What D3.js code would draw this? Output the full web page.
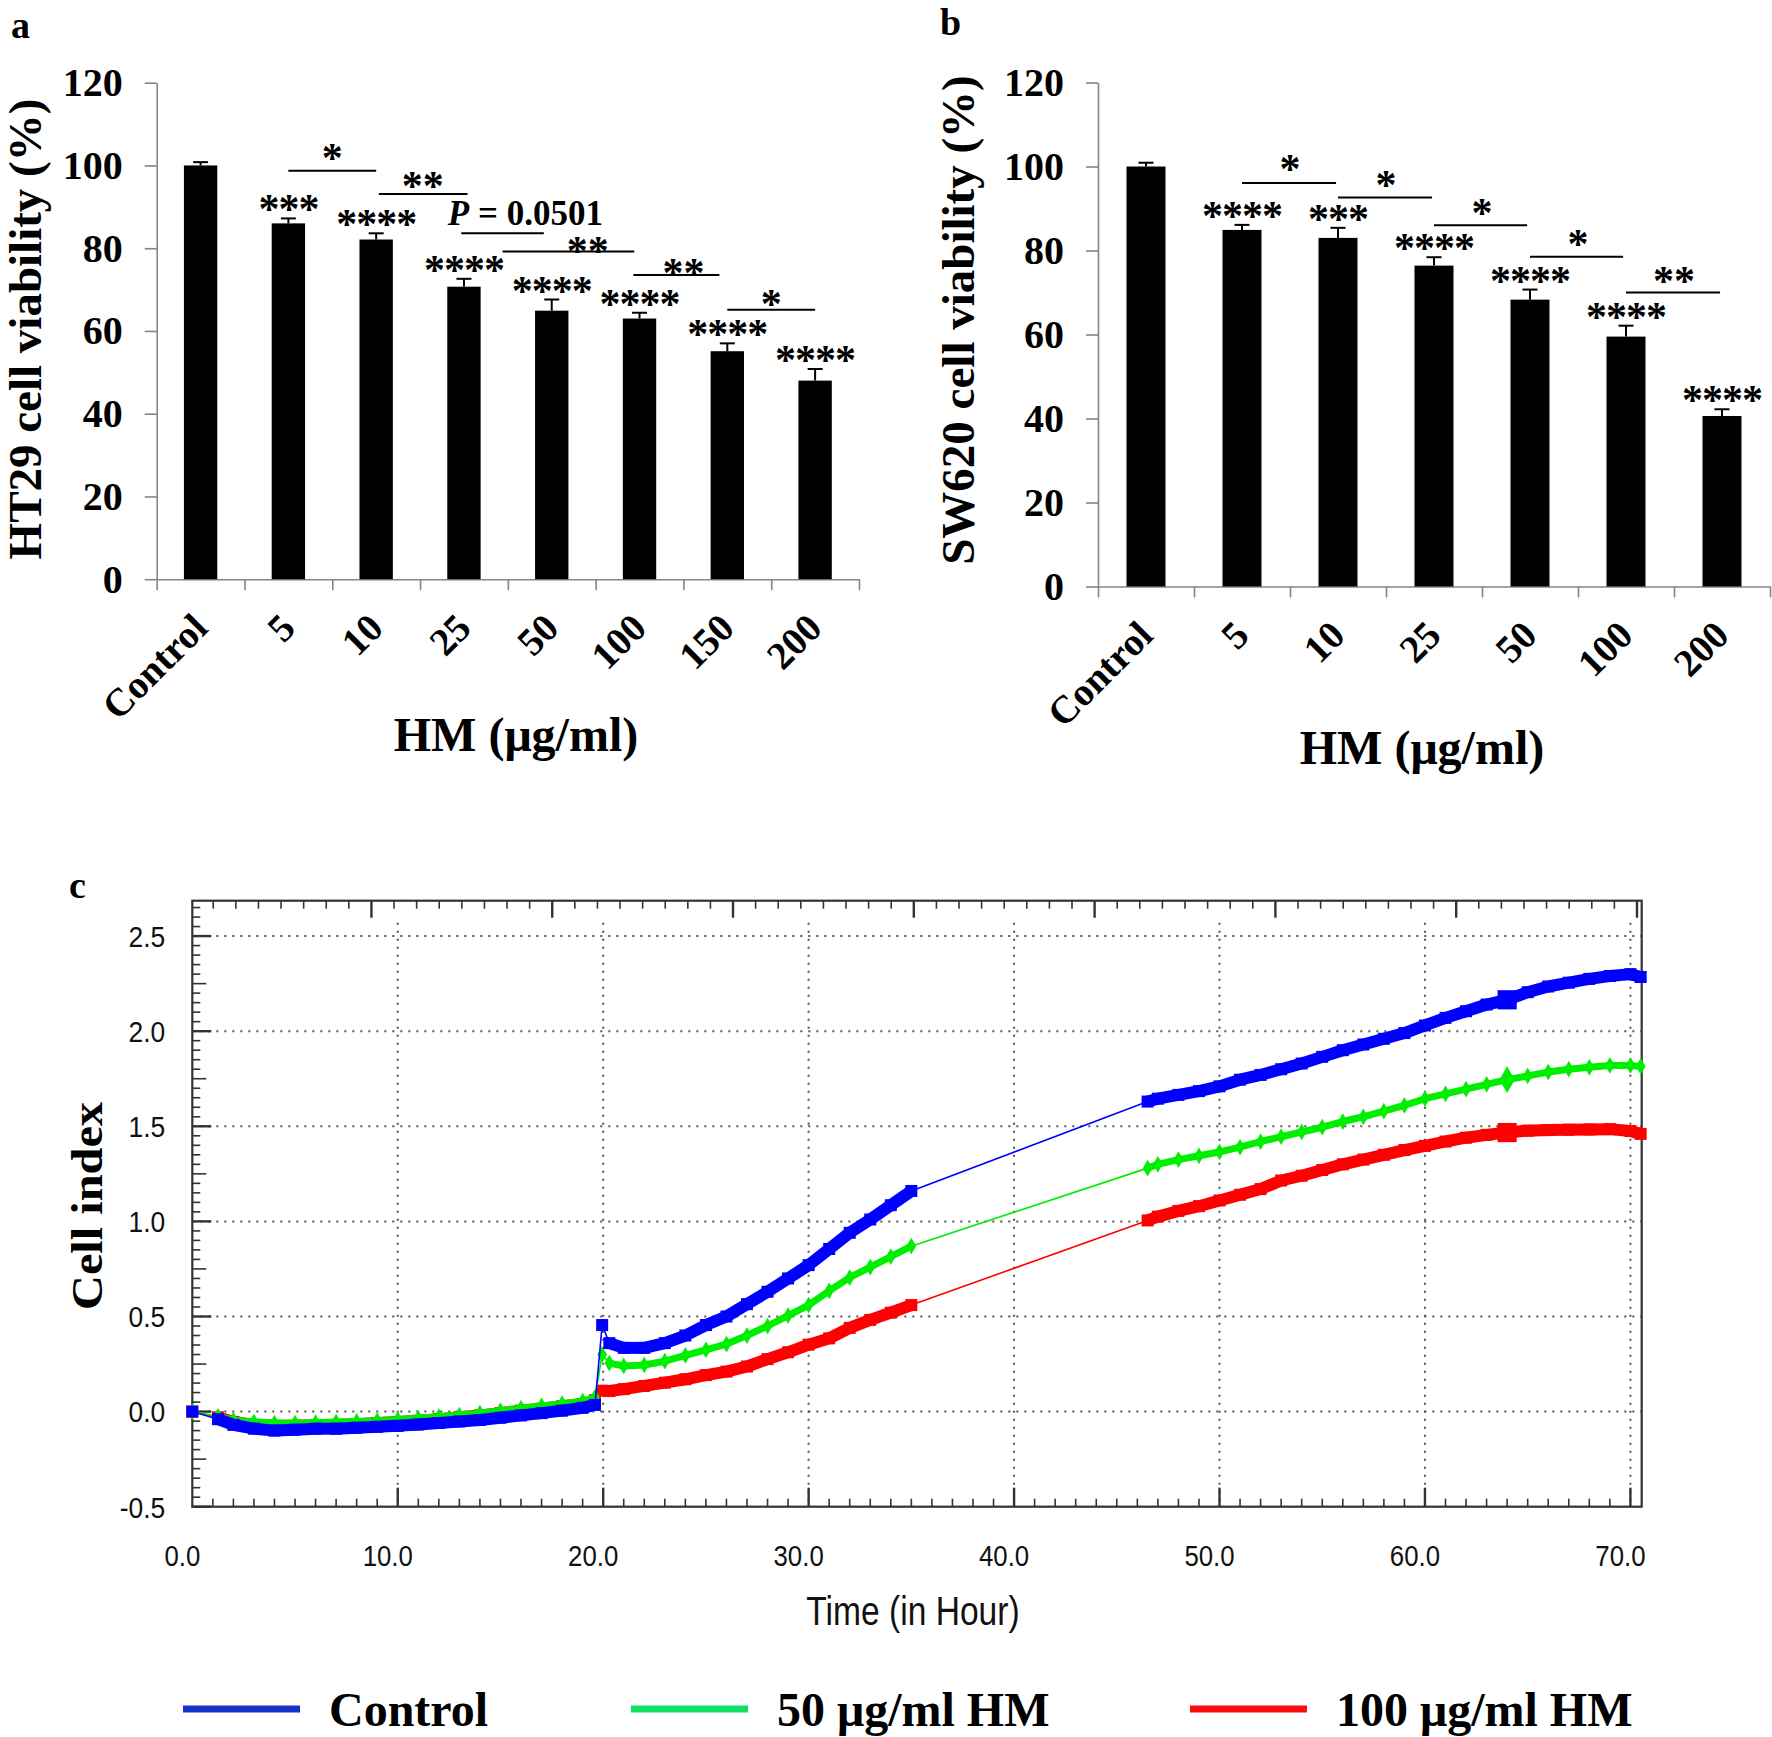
<!DOCTYPE html>
<html>
<head>
<meta charset="utf-8">
<script src="https://cdn.jsdelivr.net/npm/d3@7"></script>
<style>
  body { margin: 0; background: #fff; }
  svg { display: block; }
</style>
</head>
<body>
<svg id="fig" width="1772" height="1737"></svg>
<script>
// ---- panel a : HT29 viability
const dosesA = ["Control", "5", "10", "25", "50", "100", "150", "200"];
const viabA = [100, 86.0, 82.1, 70.7, 64.9, 63.0, 55.1, 48.0];
const errA = [0.8, 1.2, 1.5, 1.9, 2.7, 1.4, 1.9, 2.8];
const starsA = ["", "***", "****", "****", "****", "****", "****", "****"];
// brackets: from / to bar index, line level, label, label centre (index, level)
const bracketsA = [
  {from: 1, to: 2, y: 98.7, label: "*", lx: 1.5, ly: 102.9},
  {from: 2.03, to: 3.04, y: 93.1, label: "**", lx: 2.53, ly: 96.3},
  {from: 2.97, to: 3.91, y: 83.6, label: "P = 0.0501", lx: 3.70, ly: 88.6},
  {from: 3.44, to: 4.94, y: 79.2, label: "**", lx: 4.41, ly: 80.6},
  {from: 4.93, to: 5.91, y: 73.5, label: "**", lx: 5.5, ly: 75.3},
  {from: 6.0, to: 7.0, y: 65.1, label: "*", lx: 6.5, ly: 67.8}
];

// ---- panel b : SW620 viability
const dosesB = ["Control", "5", "10", "25", "50", "100", "200"];
const viabB = [100, 84.9, 83.0, 76.4, 68.3, 59.5, 40.6];
const errB = [0.9, 1.2, 2.4, 2.0, 2.4, 2.6, 1.6];
const starsB = ["", "****", "***", "****", "****", "****", "****"];
const bracketsB = [
  {from: 1, to: 1.98, y: 96.1, label: "*", lx: 1.5, ly: 100.5},
  {from: 2, to: 2.98, y: 92.6, label: "*", lx: 2.5, ly: 96.7},
  {from: 3, to: 3.97, y: 86.0, label: "*", lx: 3.5, ly: 90.1},
  {from: 4, to: 4.97, y: 78.5, label: "*", lx: 4.5, ly: 82.8},
  {from: 5, to: 5.98, y: 70.0, label: "**", lx: 5.5, ly: 73.9}
];
const viabTicks = [0, 20, 40, 60, 80, 100, 120];

// ---- panel c : real-time cell index
const hours = [0, 1.25, 2, 3, 4, 5, 6, 7, 8, 9, 10, 11, 12, 13, 14, 15, 16, 17, 18, 19,
  19.6, 19.95, 20.3, 21, 22, 23, 24, 25, 26, 27, 28, 29, 30, 31, 32, 33, 34, 35,
  46.5, 47, 48, 49, 50, 51, 52, 53, 54, 55, 56, 57, 58, 59, 60, 61, 62, 63, 64,
  65, 66, 67, 68, 69, 70, 70.5];
const ciControl = [0.00, -0.04, -0.07, -0.09, -0.10, -0.095, -0.09, -0.09, -0.085, -0.08,
  -0.075, -0.068, -0.06, -0.052, -0.044, -0.032, -0.02, -0.008, 0.005, 0.02,
  0.035, 0.455, 0.36, 0.335, 0.335, 0.36, 0.40, 0.455, 0.50, 0.565, 0.63, 0.70, 0.77,
  0.855, 0.94, 1.01, 1.085, 1.16,
  1.63, 1.645, 1.665, 1.685, 1.71, 1.745, 1.77, 1.80, 1.83, 1.865, 1.90, 1.93, 1.96,
  1.99, 2.03, 2.07, 2.105, 2.14, 2.165, 2.205, 2.235, 2.255, 2.275, 2.29, 2.30, 2.285];
const ci50 = [0.00, -0.025, -0.045, -0.055, -0.06, -0.06, -0.058, -0.055, -0.052, -0.048,
  -0.042, -0.035, -0.027, -0.018, -0.008, 0.005, 0.018, 0.03, 0.042, 0.055,
  0.075, 0.30, 0.255, 0.24, 0.245, 0.265, 0.295, 0.325, 0.355, 0.40, 0.45, 0.505, 0.56,
  0.635, 0.705, 0.76, 0.815, 0.87,
  1.28, 1.30, 1.325, 1.345, 1.365, 1.39, 1.42, 1.445, 1.47, 1.495, 1.525, 1.55, 1.58,
  1.61, 1.645, 1.67, 1.695, 1.72, 1.745, 1.765, 1.785, 1.80, 1.81, 1.82, 1.82, 1.815];
const ci100 = [0.00, -0.03, -0.055, -0.07, -0.075, -0.075, -0.072, -0.07, -0.066, -0.06,
  -0.055, -0.048, -0.04, -0.03, -0.02, -0.008, 0.005, 0.015, 0.028, 0.04,
  0.06, 0.11, 0.108, 0.118, 0.135, 0.152, 0.17, 0.192, 0.21, 0.237, 0.276, 0.312, 0.352,
  0.385, 0.44, 0.482, 0.52, 0.56,
  1.005, 1.025, 1.055, 1.08, 1.11, 1.14, 1.17, 1.215, 1.24, 1.27, 1.30, 1.325, 1.35,
  1.375, 1.397, 1.42, 1.44, 1.455, 1.467, 1.477, 1.48, 1.482, 1.483, 1.485, 1.475, 1.46];
const seriesNames = ["Control", "50 \u03bcg/ml HM", "100 \u03bcg/ml HM"];
const markTime = 64;
const ciTicks = [-0.5, 0, 0.5, 1, 1.5, 2, 2.5];
const hourTicks = [0, 10, 20, 30, 40, 50, 60, 70];

const serif = "'Liberation Serif','Times New Roman',serif";
const sans = "'Liberation Sans',Arial,sans-serif";
const svg = d3.select("#fig");
const fmt1 = d => d.toFixed(1);

function barPanel(o) {
  const g = svg.append("g");
  const n = o.cats.length;
  const x = d3.scaleBand().domain(o.cats).range(o.xr)
    .paddingInner(o.pad).paddingOuter(o.pad / 2);
  const xc = d3.scaleLinear().domain([0, n - 1])
    .range([x(o.cats[0]) + x.bandwidth() / 2, x(o.cats[n - 1]) + x.bandwidth() / 2]);
  const y = d3.scaleLinear().domain([0, 120]).range(o.yr);

  // y axis
  const ya = g.append("g")
    .attr("transform", `translate(${o.xr[0]},0)`)
    .call(d3.axisLeft(y).tickValues(viabTicks).tickSize(12).tickPadding(22).tickSizeOuter(0));
  ya.selectAll("path,line").attr("stroke", "#858585").attr("stroke-width", 1.6);
  ya.selectAll("text").attr("font-family", serif).attr("font-weight", "bold")
    .attr("font-size", 40).attr("fill", "#000");

  // x axis with ticks between the bars
  const xb = d3.scaleLinear().domain([0, n]).range(o.xr);
  const xa = g.append("g")
    .attr("transform", `translate(0,${y(0)})`)
    .call(d3.axisBottom(xb).tickValues(d3.range(n + 1)).tickSize(11).tickSizeOuter(0).tickFormat(""));
  xa.selectAll("path,line").attr("stroke", "#858585").attr("stroke-width", 1.6);

  g.selectAll(".xlab").data(o.cats).join("text")
    .attr("transform", d => `translate(${x(d) + x.bandwidth() / 2 + 9},${y(0) + 51}) rotate(-45)`)
    .attr("text-anchor", "end")
    .attr("font-family", serif).attr("font-weight", "bold").attr("font-size", 39)
    .text(d => d);

  // bars + error bars
  g.selectAll(".bar").data(o.vals).join("rect")
    .attr("x", (d, i) => x(o.cats[i]))
    .attr("width", x.bandwidth())
    .attr("y", d => y(d))
    .attr("height", d => y(0) - y(d))
    .attr("fill", "#000");
  const eb = g.selectAll(".err").data(o.vals).join("g");
  eb.append("line")
    .attr("x1", (d, i) => xc(i)).attr("x2", (d, i) => xc(i))
    .attr("y1", d => y(d)).attr("y2", (d, i) => y(d + o.err[i]))
    .attr("stroke", "#000").attr("stroke-width", 2);
  eb.append("line")
    .attr("x1", (d, i) => xc(i) - 7.5).attr("x2", (d, i) => xc(i) + 7.5)
    .attr("y1", (d, i) => y(d + o.err[i])).attr("y2", (d, i) => y(d + o.err[i]))
    .attr("stroke", "#000").attr("stroke-width", 2);

  // significance stars over the bars
  g.selectAll(".stars").data(o.stars).join("text")
    .attr("x", (d, i) => xc(i))
    .attr("y", (d, i) => y(o.vals[i] + o.err[i]) - 14 + 19)
    .attr("text-anchor", "middle")
    .attr("font-family", serif).attr("font-weight", "bold").attr("font-size", 42)
    .attr("letter-spacing", -1)
    .text(d => d);

  // comparison brackets
  g.selectAll(".brk").data(o.brackets).join("line")
    .attr("x1", d => xc(d.from)).attr("x2", d => xc(d.to))
    .attr("y1", d => y(d.y)).attr("y2", d => y(d.y))
    .attr("stroke", "#000").attr("stroke-width", 2);
  g.selectAll(".brklab").data(o.brackets).join("text")
    .attr("x", d => xc(d.lx))
    .attr("y", d => y(d.ly) + (d.label.startsWith("*") ? 19 : 12))
    .attr("text-anchor", "middle")
    .attr("font-family", serif).attr("font-weight", "bold")
    .attr("font-size", d => d.label.startsWith("*") ? 42 : 35)
    .each(function(d) {
      const t = d3.select(this);
      if (d.label.startsWith("P")) {
        t.append("tspan").attr("font-style", "italic").text("P");
        t.append("tspan").text(d.label.slice(1));
      } else {
        t.text(d.label);
      }
    });

  // titles
  g.append("text")
    .attr("transform", `translate(${o.ytitle[0]},${o.ytitle[1]}) rotate(-90)`)
    .attr("text-anchor", "middle")
    .attr("font-family", serif).attr("font-weight", "bold").attr("font-size", 47)
    .text(o.ylabel);
  g.append("text")
    .attr("x", o.xtitle[0]).attr("y", o.xtitle[1])
    .attr("text-anchor", "middle")
    .attr("font-family", serif).attr("font-weight", "bold").attr("font-size", 48)
    .text("HM (\u03bcg/ml)");
  g.append("text")
    .attr("x", o.letter[0]).attr("y", o.letter[1])
    .attr("font-family", serif).attr("font-weight", "bold").attr("font-size", 38)
    .text(o.letter[2]);
}

barPanel({
  cats: dosesA, vals: viabA, err: errA, stars: starsA, brackets: bracketsA,
  xr: [156.7, 859], yr: [579.2, 82.7], pad: 0.62,
  ylabel: "HT29 cell viability (%)", ytitle: [41, 329], xtitle: [516, 751],
  letter: [11, 38, "a"]
});
barPanel({
  cats: dosesB, vals: viabB, err: errB, stars: starsB, brackets: bracketsB,
  xr: [1098, 1770], yr: [586.5, 82.5], pad: 0.594,
  ylabel: "SW620 cell viability (%)", ytitle: [974, 320], xtitle: [1422, 764],
  letter: [940, 35, "b"]
});

// ---- panel c
const gc = svg.append("g");
const cLeft = 192.3, cRight = 1641.7, cTop = 900.7, cBottom = 1506.7;
const xC = d3.scaleLinear().domain([0, 70.55]).range([cLeft, cRight]);
const yC = d3.scaleLinear().domain([-0.5, 2.686]).range([cBottom, cTop]);

// dotted grid
gc.selectAll(".hg").data(ciTicks.filter(d => d > -0.5)).join("line")
  .attr("x1", cLeft).attr("x2", cRight)
  .attr("y1", d => yC(d)).attr("y2", d => yC(d))
  .attr("stroke", "#555").attr("stroke-width", 2).attr("stroke-dasharray", "2,6");
gc.selectAll(".vg").data(hourTicks.filter(d => d > 0)).join("line")
  .attr("x1", d => xC(d)).attr("x2", d => xC(d))
  .attr("y1", cTop + 22).attr("y2", cBottom)
  .attr("stroke", "#555").attr("stroke-width", 2).attr("stroke-dasharray", "2,6");

// inner ticks: left every 0.05, bottom every hour, top on its own spacing
const leftTicks = d3.range(0, 64).map(k => ({v: -0.5 + k * 0.05, len: k % 10 === 0 ? 19 : (k % 5 === 0 ? 14 : 8)}));
gc.selectAll(".lt").data(leftTicks).join("line")
  .attr("x1", cLeft).attr("x2", d => cLeft + d.len)
  .attr("y1", d => yC(d.v)).attr("y2", d => yC(d.v))
  .attr("stroke", "#333").attr("stroke-width", d => d.len > 14 ? 2.4 : 1.6);
const bottomTicks = d3.range(1, 71).map(h => ({h: h, len: h % 10 === 0 ? 19 : 8}));
gc.selectAll(".bt").data(bottomTicks).join("line")
  .attr("x1", d => xC(d.h)).attr("x2", d => xC(d.h))
  .attr("y1", cBottom).attr("y2", d => cBottom - d.len)
  .attr("stroke", "#333").attr("stroke-width", d => d.len > 8 ? 2.4 : 1.6);
const topTicks = d3.range(0, 64).map(k => ({h: 1.02 + k * 1.1, len: k % 8 === 7 ? 17 : 8}))
  .filter(d => d.h < 70.4);
gc.selectAll(".tt").data(topTicks).join("line")
  .attr("x1", d => xC(d.h)).attr("x2", d => xC(d.h))
  .attr("y1", cTop).attr("y2", d => cTop + d.len)
  .attr("stroke", "#333").attr("stroke-width", d => d.len > 8 ? 2.4 : 1.6);

gc.append("rect")
  .attr("x", cLeft).attr("y", cTop).attr("width", cRight - cLeft).attr("height", cBottom - cTop)
  .attr("fill", "none").attr("stroke", "#333").attr("stroke-width", 2.2);

// tick labels (narrow sans)
gc.selectAll(".yl").data(ciTicks).join("text")
  .attr("transform", d => `translate(${cLeft - 27},${yC(d)}) scale(0.88,1)`)
  .attr("dy", "0.36em").attr("text-anchor", "end")
  .attr("font-family", sans).attr("font-size", 30).attr("fill", "#111")
  .text(fmt1);
gc.selectAll(".xl").data(hourTicks).join("text")
  .attr("transform", d => `translate(${xC(d) - 10},1566) scale(0.86,1)`)
  .attr("text-anchor", "middle")
  .attr("font-family", sans).attr("font-size", 30).attr("fill", "#111")
  .text(fmt1);
gc.append("text")
  .attr("transform", "translate(913,1625) scale(0.84,1)")
  .attr("text-anchor", "middle")
  .attr("font-family", sans).attr("font-size", 40).attr("fill", "#111")
  .text("Time (in Hour)");
gc.append("text")
  .attr("transform", "translate(102,1206) rotate(-90)")
  .attr("text-anchor", "middle")
  .attr("font-family", serif).attr("font-weight", "bold").attr("font-size", 45)
  .attr("textLength", 208).attr("lengthAdjust", "spacingAndGlyphs")
  .text("Cell index");
gc.append("text")
  .attr("x", 69).attr("y", 898)
  .attr("font-family", serif).attr("font-weight", "bold").attr("font-size", 38)
  .text("c");

// series
const series = [
  {vals: ci100, color: "#ff0000", band: 12, mark: "square", size: 12},
  {vals: ci50, color: "#00ee00", band: 7, mark: "diamond", size: 9},
  {vals: ciControl, color: "#0000ff", band: 12, mark: "square", size: 12}
];
const line = d3.line().x(d => xC(d[0])).y(d => yC(d[1]));
series.forEach(s => {
  const pts = hours.map((h, i) => [h, s.vals[i]]);
  const sg = gc.append("g");
  sg.append("path").attr("d", line(pts))
    .attr("fill", "none").attr("stroke", s.color).attr("stroke-width", 1.6);
  // dense measurement stretches drawn as a thick band
  const dense = [];
  for (let i = 1; i < pts.length; i++) {
    const dt = pts[i][0] - pts[i - 1][0];
    if (dt >= 0.4 && dt <= 1.01) dense.push([pts[i - 1], pts[i]]);
  }
  sg.selectAll(".seg").data(dense).join("path")
    .attr("d", d => line(d))
    .attr("fill", "none").attr("stroke", s.color).attr("stroke-width", s.band);
  const sym = d3.symbol().type(s.mark === "square" ? d3.symbolSquare : d3.symbolDiamond);
  sg.selectAll(".pt").data(pts).join("path")
    .attr("transform", d => `translate(${xC(d[0])},${yC(d[1])})`)
    .attr("d", d => sym.size((d[0] === markTime ? s.size * 1.6 : s.size) ** 2)())
    .attr("fill", s.color);
});

// legend
const legColors = ["#1434c8", "#10e060", "#ff0a0a"];
const legX = [183, 631, 1190];
const lg = svg.append("g");
seriesNames.forEach((name, i) => {
  lg.append("line")
    .attr("x1", legX[i]).attr("x2", legX[i] + 117)
    .attr("y1", 1709).attr("y2", 1709)
    .attr("stroke", legColors[i]).attr("stroke-width", 7);
  lg.append("text")
    .attr("x", legX[i] + 146).attr("y", 1726)
    .attr("font-family", serif).attr("font-weight", "bold").attr("font-size", 48)
    .text(name);
});
</script>
</body>
</html>
